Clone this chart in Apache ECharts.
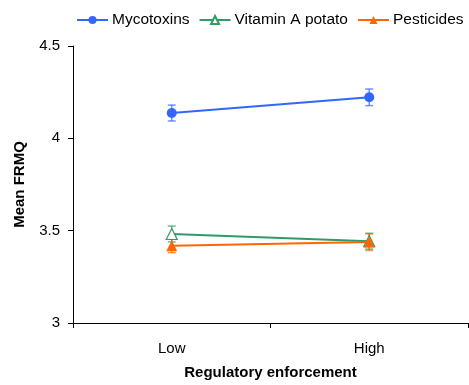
<!DOCTYPE html>
<html>
<head>
<meta charset="utf-8">
<script src="https://cdn.jsdelivr.net/npm/echarts@6/dist/echarts.min.js"></script>
<style>
  html, body { margin: 0; padding: 0; background: #fff; }
  #chart { width: 469px; height: 385px; }
</style>
</head>
<body>
<div id="chart"></div>
<script>
// Regulatory enforcement levels
const categories = ['Low', 'High'];

// Mean FRMQ per condition, with standard errors
const mycotoxins = [4.137, 4.222];
const mycotoxinsErr = [0.043, 0.045];
const vitaminA = [3.482, 3.443];
const vitaminAErr = [0.043, 0.043];
const pesticides = [3.418, 3.438];
const pesticidesErr = [0.037, 0.045];

const yTicks = [3, 3.5, 4, 4.5];

const FONT = 'Liberation Sans, Arial, sans-serif';
const COLORS = { myco: '#3366ff', vita: '#339966', pest: '#ff6600' };

function errorData(vals, errs) {
  return vals.map((v, i) => [i, v - errs[i], v + errs[i]]);
}

function errorSeries(vals, errs, color) {
  return {
    type: 'custom',
    silent: true,
    z: 1,
    data: errorData(vals, errs),
    encode: { x: 0, y: [1, 2] },
    renderItem: function (params, api) {
      const x = api.value(0);
      const lo = api.coord([x, api.value(1)]);
      const hi = api.coord([x, api.value(2)]);
      const half = 4;
      const style = { stroke: color, lineWidth: 1.5, opacity: 0.7 };
      return {
        type: 'group',
        children: [
          { type: 'line', shape: { x1: lo[0], y1: lo[1], x2: hi[0], y2: hi[1] }, style },
          { type: 'line', shape: { x1: hi[0] - half, y1: hi[1], x2: hi[0] + half, y2: hi[1] }, style },
          { type: 'line', shape: { x1: lo[0] - half, y1: lo[1], x2: lo[0] + half, y2: lo[1] }, style }
        ]
      };
    }
  };
}

const chart = echarts.init(document.getElementById('chart'), null, { renderer: 'canvas' });

chart.setOption({
  animation: false,
  textStyle: { fontFamily: FONT },
  legend: {
    data: ['Mycotoxins', 'Vitamin A potato', 'Pesticides'],
    top: 12,
    left: 76,
    width: 393,
    padding: 0,
    itemWidth: 31,
    itemHeight: 10,
    itemGap: 9,
    textStyle: { fontFamily: FONT, fontSize: 15.5, color: '#000', padding: [0, 0, 0, -1] }
  },
  grid: { left: 73, right: 1, top: 46, bottom: 58, containLabel: false },
  xAxis: {
    type: 'category',
    data: categories,
    boundaryGap: true,
    name: 'Regulatory enforcement',
    nameLocation: 'middle',
    nameGap: 42,
    nameTextStyle: { fontFamily: FONT, fontSize: 15, fontWeight: 'bold', color: '#000' },
    axisLine: { lineStyle: { color: '#000', width: 1 } },
    axisTick: { show: true, length: 5, lineStyle: { color: '#000' } },
    axisLabel: { fontFamily: FONT, fontSize: 15, color: '#000', margin: 18 },
    splitLine: { show: false }
  },
  yAxis: {
    type: 'value',
    min: yTicks[0],
    max: yTicks[yTicks.length - 1],
    interval: 0.5,
    name: 'Mean FRMQ',
    nameLocation: 'middle',
    nameGap: 46,
    nameTextStyle: { fontFamily: FONT, fontSize: 15, fontWeight: 'bold', color: '#000' },
    axisLine: { show: true, lineStyle: { color: '#000', width: 1 } },
    axisTick: { show: true, length: 5, lineStyle: { color: '#000' } },
    axisLabel: { fontFamily: FONT, fontSize: 15, color: '#000', margin: 13 },
    splitLine: { show: false }
  },
  series: [
    errorSeries(mycotoxins, mycotoxinsErr, COLORS.myco),
    errorSeries(vitaminA, vitaminAErr, COLORS.vita),
    errorSeries(pesticides, pesticidesErr, COLORS.pest),
    {
      name: 'Mycotoxins',
      type: 'line',
      z: 3,
      data: mycotoxins,
      symbol: 'circle',
      symbolSize: 10,
      itemStyle: { color: COLORS.myco },
      lineStyle: { color: COLORS.myco, width: 2 }
    },
    {
      name: 'Vitamin A potato',
      type: 'line',
      z: 3,
      data: vitaminA,
      symbol: 'triangle',
      symbolSize: 11,
      itemStyle: { color: '#fff', borderColor: COLORS.vita, borderWidth: 1.2 },
      lineStyle: { color: COLORS.vita, width: 2 }
    },
    {
      name: 'Pesticides',
      type: 'line',
      z: 4,
      data: pesticides,
      symbol: 'triangle',
      symbolSize: 11,
      itemStyle: { color: COLORS.pest },
      lineStyle: { color: COLORS.pest, width: 2 }
    }
  ]
});
</script>
</body>
</html>
